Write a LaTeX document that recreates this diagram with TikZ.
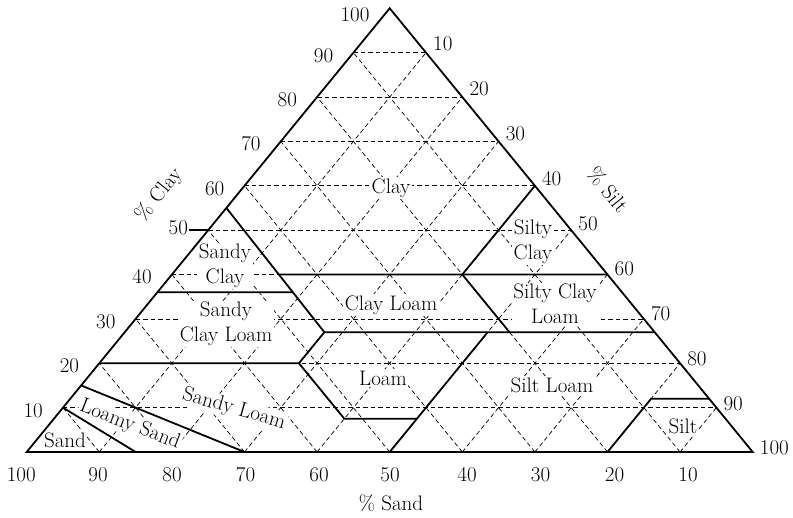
\documentclass[tikz,border=0pt]{standalone}
\usepackage{fontspec}
\usetikzlibrary{calc}
\begin{document}
\begin{tikzpicture}[x=1pt,y=-1pt,font=\fontsize{21}{25}\selectfont,
  grid/.style={line width=0.7pt,dash pattern=on 4.5pt off 3pt},
  bound/.style={line width=1.8pt,line join=miter},
  region/.style={fill=white,inner sep=1.5pt,align=center},
  tick/.style={inner sep=0pt}]
\useasboundingbox (0,0) rectangle (793,518);
\coordinate (SA) at (26.7,452);
\coordinate (SI) at (752.7,452);
\coordinate (CL) at (389.7,8.3);
% dashed grid
\foreach \i in {10,20,...,90}{
  \pgfmathsetmacro\a{\i/100}
  \pgfmathsetmacro\b{1-\i/100}
  \draw[grid] (barycentric cs:CL=\a,SA=\b,SI=0) -- (barycentric cs:CL=\a,SI=\b,SA=0);
  \draw[grid] (barycentric cs:SA=\a,SI=\b,CL=0) -- (barycentric cs:SA=\a,CL=\b,SI=0);
  \draw[grid] (barycentric cs:SI=\a,SA=\b,CL=0) -- (barycentric cs:SI=\a,CL=\b,SA=0);
}
% region labels (white fill masks the grid, boundaries drawn on top)
\node[region] (rclay) at (391,188) {Clay};
\node[region] (rsc) at (225,266) {Sandy\\Clay};
\node[region] (rscl) at (226,324) {Sandy\\Clay Loam};
\node[region] (rcl) at (391,305) {Clay Loam};
\node[region] (rsic) at (533,242) {Silty\\Clay};
\node[region] (rsicl) at (555,304) {Silty Clay\\Loam};
\node[region] (rloam) at (383,378) {Loam};
\node[region] (rsil) at (552,385) {Silt Loam};
\node[region] (rsilt) at (683,426) {Silt};
\node[region] (rsand) at (65,440) {Sand};
\node[region,rotate=-21] (rls) at (130,425) {Loamy Sand};
\node[region,rotate=-16] (rsl) at (234,409) {Sandy Loam};
% boundary points (clay, silt, sand)
\coordinate (sA) at (barycentric cs:CL=0.10,SI=0,SA=0.90);
\coordinate (sB) at (barycentric cs:CL=0,SI=0.15,SA=0.85);
\coordinate (lA) at (barycentric cs:CL=0.15,SI=0,SA=0.85);
\coordinate (lB) at (barycentric cs:CL=0,SI=0.30,SA=0.70);
\coordinate (c20L) at (barycentric cs:CL=0.20,SI=0,SA=0.80);
\coordinate (p20) at (barycentric cs:CL=0.20,SI=0.275,SA=0.525);
\coordinate (p7a) at (barycentric cs:CL=0.075,SI=0.40,SA=0.525);
\coordinate (p7b) at (barycentric cs:CL=0.075,SI=0.50,SA=0.425);
\coordinate (b50) at (barycentric cs:CL=0,SI=0.50,SA=0.50);
\coordinate (p27a) at (barycentric cs:CL=0.27,SI=0.275,SA=0.455);
\coordinate (p27b) at (barycentric cs:CL=0.27,SI=0.50,SA=0.23);
\coordinate (p27c) at (barycentric cs:CL=0.27,SI=0.53,SA=0.20);
\coordinate (p27d) at (barycentric cs:CL=0.27,SI=0.73,SA=0);
\coordinate (p55) at (barycentric cs:CL=0.55,SI=0,SA=0.45);
\coordinate (p36L) at (barycentric cs:CL=0.36,SI=0,SA=0.64);
\coordinate (p36) at ($(p55)!0.6786!(p27a)$);
\coordinate (p40a) at ($(p55)!0.5357!(p27a)$);
\coordinate (p40b) at (barycentric cs:CL=0.40,SI=0.40,SA=0.20);
\coordinate (p40c) at (barycentric cs:CL=0.40,SI=0.60,SA=0);
\coordinate (p60) at (barycentric cs:CL=0.60,SI=0.40,SA=0);
\coordinate (s80) at (barycentric cs:CL=0,SI=0.80,SA=0.20);
\coordinate (s12) at (barycentric cs:CL=0.12,SI=0.80,SA=0.08);
\coordinate (s12r) at (barycentric cs:CL=0.12,SI=0.88,SA=0);
\coordinate (p50L) at (barycentric cs:CL=0.50,SI=0,SA=0.50);
\coordinate (t50) at ($(p50L)+(-19,0)$);
% boundaries
\draw[bound] (sA) -- (sB);
\draw[bound] (lA) -- (lB);
\draw[bound] (c20L) -- (p20) -- (p7a) -- (p7b);
\draw[bound] (p20) -- (p27a);
\draw[bound] (b50) -- (p27b);
\draw[bound] (p55) -- (p27a) -- (p27d);
\draw[bound] (p36L) -- (p36);
\draw[bound] (p40a) -- (p40c);
\draw[bound] (p60) -- (p40b) -- (p27c);
\draw[bound] (s80) -- (s12) -- (s12r);
\draw[bound] (p50L) -- (t50);
\draw[bound] (SA) -- (SI) -- (CL) -- cycle;
% side ticks (clay left, silt right)
\foreach \i in {10,20,...,90}{
  \pgfmathsetmacro\a{\i/100}
  \pgfmathsetmacro\b{1-\i/100}
  \pgfmathsetmacro\ly{\i==50 ? 2 : -2.6}
  \pgfmathsetmacro\ry{9.5-0.06*\i}
  \node[tick,anchor=east,xshift=-20pt,yshift=\ly pt] (lc\i) at (barycentric cs:CL=\a,SA=\b,SI=0) {\i};
  \node[tick,anchor=west,xshift=7pt,yshift=\ry pt] (rs\i) at (barycentric cs:SI=\a,CL=\b,SA=0) {\i};
}
\node[tick,anchor=east,xshift=-20pt,yshift=-6pt] (lc100) at (CL) {100};
\node[tick,anchor=west,xshift=7pt,yshift=4.5pt] (rs100) at (SI) {100};
% bottom ticks (sand)
\node[tick] (b100) at (21.3,475) {100};
\node[tick] (bt90) at (98,475) {90};
\node[tick] (bt80) at (172,475) {80};
\node[tick] (bt70) at (245.5,475) {70};
\node[tick] (bt60) at (319,475) {60};
\node[tick] (bt50) at (390,475) {50};
\node[tick] (bt40) at (467,475) {40};
\node[tick] (bt30) at (540.5,475) {30};
\node[tick] (bt20) at (614.5,475) {20};
\node[tick] (bt10) at (688,475) {10};
% axis titles
\node (tsand) at (391,503) {\% Sand};
\node[rotate=51] (tclay) at (159,195) {\% Clay};
\node[rotate=-51] (tsilt) at (608,190) {\% Silt};
\end{tikzpicture}
\end{document}
